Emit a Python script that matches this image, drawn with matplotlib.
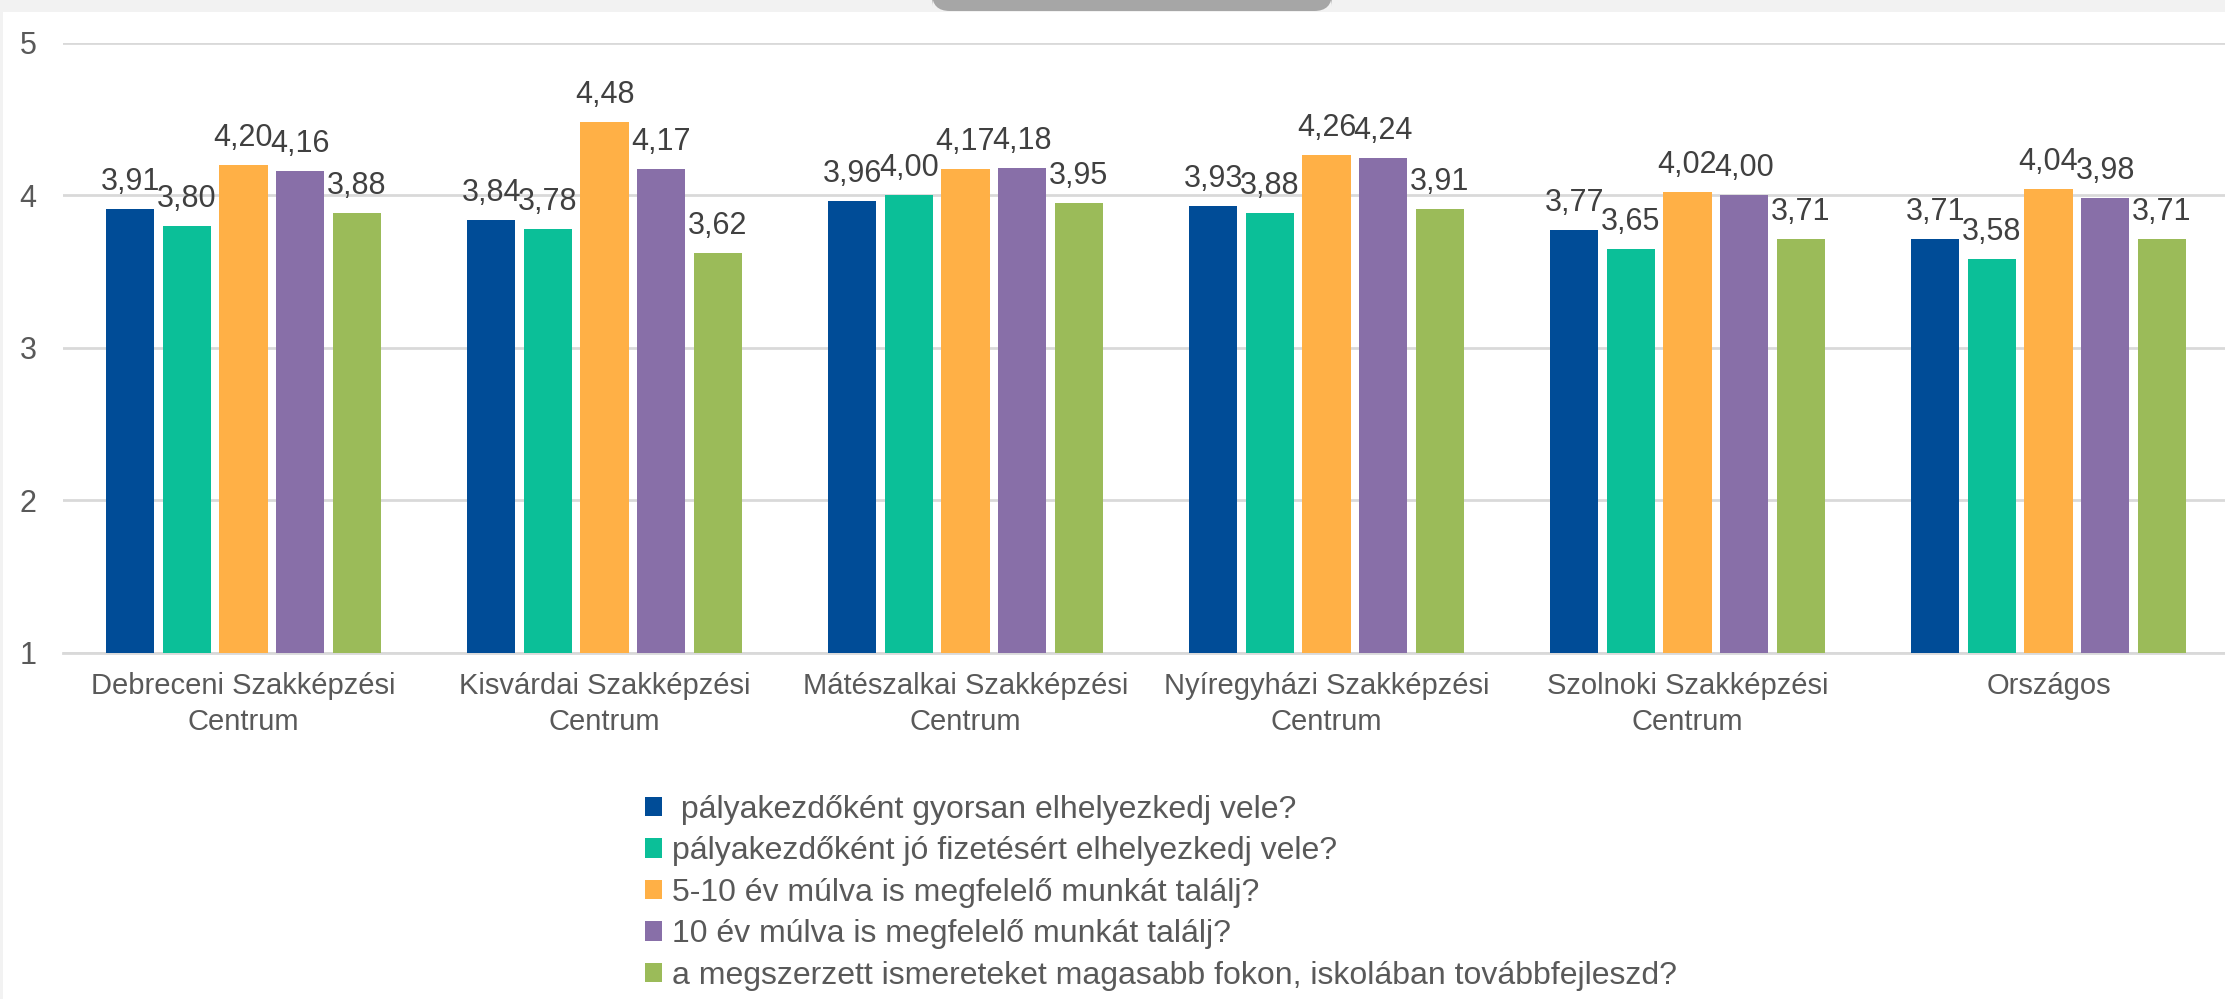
"""
Szakképzési centrumok – elhelyezkedési esélyek átlaga (oszlopdiagram).
"""
import numpy as np
import matplotlib
matplotlib.use('Agg')
import matplotlib.pyplot as plt
from matplotlib.patches import FancyBboxPatch, Rectangle

plt.rcParams.update({
    'font.family': ['Liberation Sans', 'DejaVu Sans'],
    'font.size': 20,
})

categories = ['Debreceni Szakképzési\nCentrum', 'Kisvárdai Szakképzési\nCentrum',
              'Mátészalkai Szakképzési\nCentrum', 'Nyíregyházi Szakképzési\nCentrum',
              'Szolnoki Szakképzési\nCentrum', 'Országos']
series_names = [' pályakezdőként gyorsan elhelyezkedj vele?',
                'pályakezdőként jó fizetésért elhelyezkedj vele?',
                '5-10 év múlva is megfelelő munkát találj?',
                '10 év múlva is megfelelő munkát találj?',
                'a megszerzett ismereteket magasabb fokon, iskolában továbbfejleszd?']
gyorsan = [3.91, 3.84, 3.96, 3.93, 3.77, 3.71]
jo_fizetes = [3.80, 3.78, 4.00, 3.88, 3.65, 3.58]
ev_5_10 = [4.20, 4.48, 4.17, 4.26, 4.02, 4.04]
ev_10 = [4.16, 4.17, 4.18, 4.24, 4.00, 3.98]
tovabb = [3.88, 3.62, 3.95, 3.91, 3.71, 3.71]
series = [gyorsan, jo_fizetes, ev_5_10, ev_10, tovabb]
colors = ['#004C97', '#0BBF98', '#FFB046', '#886FA8', '#9BBB59']

fig = plt.figure(figsize=(22.25, 9.99), dpi=100)

# page chrome (grey strip on top with the tab)
fig.patches.append(Rectangle((0, 1 - 12 / 999), 1, 12 / 999, transform=fig.transFigure,
                             facecolor='#F2F2F2', edgecolor='none', zorder=0))
fig.patches.append(Rectangle((0, 0), 3 / 2225, 1, transform=fig.transFigure,
                             facecolor='#F2F2F2', edgecolor='none', zorder=0))
fig.patches.append(FancyBboxPatch((932 / 2225, 1 - 11 / 999), 400 / 2225, 22 / 999,
                                  boxstyle='round,pad=0,rounding_size=0.008',
                                  transform=fig.transFigure, facecolor='#A6A6A6',
                                  edgecolor='none', zorder=1, mutation_aspect=2225 / 999))

ax = fig.add_axes([63 / 2225, 346 / 999, 2166 / 2225, 610.5 / 999])
x = np.arange(len(categories))
width = 0.133
step = 0.157
for i, (vals, col, name) in enumerate(zip(series, colors, series_names)):
    pos = x + (i - 2) * step
    bars = ax.bar(pos, np.array(vals) - 1, width, bottom=1, color=col, label=name, zorder=3)
    for b, v in zip(bars, vals):
        ax.annotate(f'{v:.2f}'.replace('.', ','), (b.get_x() + b.get_width() / 2, v),
                    xytext=(0, 12), textcoords='offset pixels', ha='center', va='bottom',
                    fontsize=22, color='#404040')

ax.set_xlim(-0.5, len(categories) - 0.5)
ax.set_ylim(1, 5)
ax.set_yticks([1, 2, 3, 4, 5])
ax.yaxis.grid(True, color='#D9D9D9', linewidth=2, zorder=0)
ax.set_axisbelow(True)
for s in ['top', 'right', 'left']:
    ax.spines[s].set_visible(False)
ax.spines['bottom'].set_color('#D9D9D9')
ax.spines['bottom'].set_linewidth(2)
ax.set_xticks(x)
ax.set_xticklabels(categories, color='#595959', fontsize=21, linespacing=1.35)
ax.tick_params(axis='y', length=0, pad=19, labelcolor='#595959', labelsize=22)
ax.tick_params(axis='x', length=0, pad=14)

fig.legend(loc='upper left', bbox_to_anchor=(632 / 2225, 1 - 782 / 999), frameon=False,
           fontsize=23, labelcolor='#595959', handlelength=0.55, handleheight=0.55,
           handletextpad=0.3, labelspacing=0.36, borderaxespad=0)

fig.savefig('out.png', dpi=100)
